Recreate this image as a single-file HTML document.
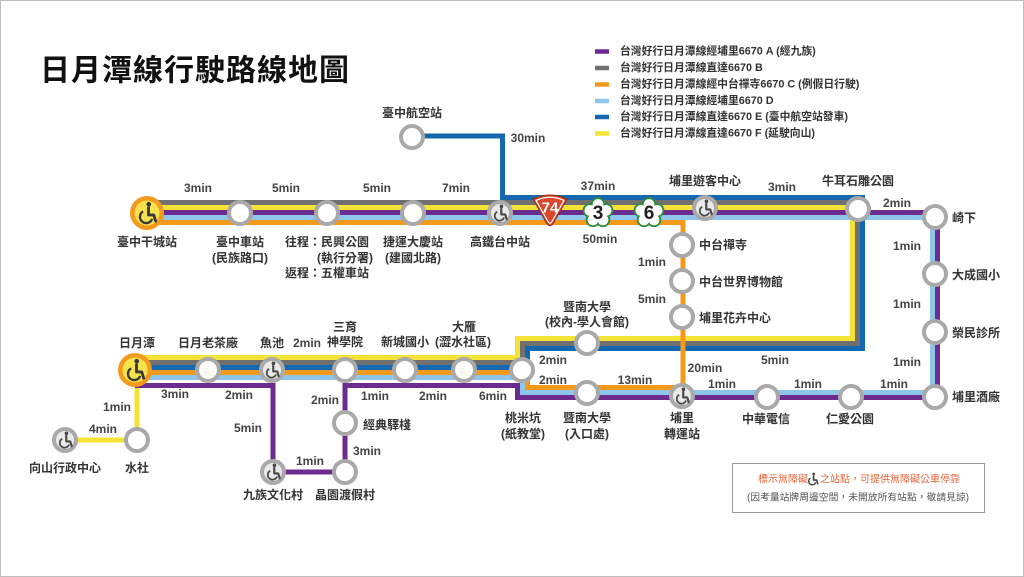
<!DOCTYPE html>
<html><head><meta charset="utf-8"><style>
html,body{margin:0;padding:0;background:#fff}
svg{display:block}
text{font-family:"Liberation Sans","Noto Sans CJK TC",sans-serif;fill:#333;dominant-baseline:central}
.st{font-size:12px;font-weight:bold;text-anchor:middle}
.sl{font-size:12px;font-weight:bold;text-anchor:start}
.mn{font-size:12px;font-weight:bold;text-anchor:middle;fill:#444}
.lg{font-size:10.8px;font-weight:bold;fill:#333}
</style></head><body>
<svg width="1024" height="577" viewBox="0 0 1024 577" xmlns="http://www.w3.org/2000/svg">
<rect x="0.5" y="0.5" width="1023" height="576" fill="#fff" stroke="#bdbdbd" stroke-width="1"/>

<!-- Title -->
<text x="40" y="71" style="font-size:30px;font-weight:bold;fill:#111;letter-spacing:1px">日月潭線行駛路線地圖</text>

<!-- Legend -->
<g stroke-width="4.5">
<line x1="595" y1="51.5" x2="609" y2="51.5" stroke="#6c2b8f"/>
<line x1="595" y1="68" x2="609" y2="68" stroke="#707070"/>
<line x1="595" y1="84.5" x2="609" y2="84.5" stroke="#f39a1d"/>
<line x1="595" y1="101" x2="609" y2="101" stroke="#8ec5ea"/>
<line x1="595" y1="117" x2="609" y2="117" stroke="#1368b0"/>
<line x1="595" y1="133.5" x2="609" y2="133.5" stroke="#f4e336"/>
</g>
<text class="lg" x="620" y="51.5">台灣好行日月潭線經埔里6670 A (經九族)</text>
<text class="lg" x="620" y="68">台灣好行日月潭線直達6670 B</text>
<text class="lg" x="620" y="84.5">台灣好行日月潭線經中台禪寺6670 C (例假日行駛)</text>
<text class="lg" x="620" y="101">台灣好行日月潭線經埔里6670 D</text>
<text class="lg" x="620" y="117">台灣好行日月潭線直達6670 E (臺中航空站發車)</text>
<text class="lg" x="620" y="133.5">台灣好行日月潭線直達6670 F (延駛向山)</text>

<!-- Route lines -->
<g fill="none" stroke-width="5" stroke-linejoin="miter" stroke-linecap="butt">
<path d="M147,207.5 H852.5 V338.5 H517.5 V357.5 H135" stroke="#f4e336"/>
<path d="M137,370 V440 H65" stroke="#f4e336"/>
<path d="M147,202.5 H857.5 V343.5 H522.5 V362.5 H135" stroke="#707070"/>
<path d="M412,136 H502.5 V197.5 H862.5 V348.5 H527.5 V367.5 H135" stroke="#1368b0"/>
<path d="M147,212.5 H937.5 V397.5 H517.5 V385.5 H345 V472 H273 V385.5 H135" stroke="#6c2b8f"/>
<path d="M147,217.5 H932.5 V392.5 H522.5 V377.5 H135" stroke="#8ec5ea"/>
<path d="M147,222.5 H683 V387.5 H527.5 V372.5 H135" stroke="#f39a1d"/>
</g>

<!-- Regular stations -->
<g fill="#fff" stroke="#a9a9a9" stroke-width="4">
<circle cx="240" cy="213" r="11"/>
<circle cx="327" cy="213" r="11"/>
<circle cx="413" cy="213" r="11"/>
<circle cx="412" cy="137" r="11"/>
<circle cx="858" cy="209" r="11"/>
<circle cx="935" cy="217" r="11"/>
<circle cx="935" cy="274" r="11"/>
<circle cx="935" cy="332" r="11"/>
<circle cx="935" cy="397" r="11"/>
<circle cx="682" cy="245" r="11"/>
<circle cx="682" cy="281" r="11"/>
<circle cx="682" cy="317" r="11"/>
<circle cx="851" cy="397" r="11"/>
<circle cx="767" cy="397" r="11"/>
<circle cx="587" cy="343" r="11"/>
<circle cx="587" cy="393" r="11"/>
<circle cx="522" cy="370" r="11"/>
<circle cx="464" cy="370" r="11"/>
<circle cx="405" cy="370" r="11"/>
<circle cx="345" cy="370" r="11"/>
<circle cx="208" cy="370" r="11"/>
<circle cx="137" cy="440" r="11"/>
<circle cx="345" cy="423" r="11"/>
<circle cx="345" cy="472" r="11"/>
</g>

<!-- Accessible grey stations -->
<g fill="#e9e9e9" stroke="#a9a9a9" stroke-width="4">
<circle cx="500" cy="213" r="11"/>
<circle cx="705" cy="208" r="11"/>
<circle cx="682" cy="396" r="11"/>
<circle cx="272" cy="370" r="11"/>
<circle cx="273" cy="472" r="11"/>
<circle cx="65" cy="440" r="11"/>
</g>
<!-- Big accessible stations -->
<g>
<circle cx="147" cy="213" r="17" fill="#f39a1d"/>
<circle cx="147" cy="213" r="12.5" fill="#f6e24e"/>
<circle cx="135" cy="370" r="17" fill="#f39a1d"/>
<circle cx="135" cy="370" r="12.5" fill="#f6e24e"/>
</g>

<!-- Wheelchair icons -->
<g fill="none" stroke="#4a4a4a">
<g transform="translate(147.5,213) scale(1.25)"><circle cx="1" cy="-7" r="1.9" fill="#3a3a3a" stroke="none"/><path d="M0.8,-4.2 V1.5 H5 L6.5,6.5" stroke="#3a3a3a" stroke-width="2.3" stroke-linejoin="round" stroke-linecap="round"/><path d="M-3.5,-1.3 A5,5 0 1 0 3.7,4.7" stroke="#3a3a3a" stroke-width="1.9"/></g>
<g transform="translate(135.5,370) scale(1.25)"><circle cx="1" cy="-7" r="1.9" fill="#3a3a3a" stroke="none"/><path d="M0.8,-4.2 V1.5 H5 L6.5,6.5" stroke="#3a3a3a" stroke-width="2.3" stroke-linejoin="round" stroke-linecap="round"/><path d="M-3.5,-1.3 A5,5 0 1 0 3.7,4.7" stroke="#3a3a3a" stroke-width="1.9"/></g>
<g transform="translate(500.5,213) scale(0.95)"><circle cx="1" cy="-7" r="1.9" fill="#4a4a4a" stroke="none"/><path d="M0.8,-4.2 V1.5 H5 L6.5,6.5" stroke-width="2.3" stroke-linejoin="round" stroke-linecap="round"/><path d="M-3.5,-1.3 A5,5 0 1 0 3.7,4.7" stroke-width="1.9"/></g>
<g transform="translate(705.5,208) scale(0.95)"><circle cx="1" cy="-7" r="1.9" fill="#4a4a4a" stroke="none"/><path d="M0.8,-4.2 V1.5 H5 L6.5,6.5" stroke-width="2.3" stroke-linejoin="round" stroke-linecap="round"/><path d="M-3.5,-1.3 A5,5 0 1 0 3.7,4.7" stroke-width="1.9"/></g>
<g transform="translate(682.5,396) scale(0.95)"><circle cx="1" cy="-7" r="1.9" fill="#4a4a4a" stroke="none"/><path d="M0.8,-4.2 V1.5 H5 L6.5,6.5" stroke-width="2.3" stroke-linejoin="round" stroke-linecap="round"/><path d="M-3.5,-1.3 A5,5 0 1 0 3.7,4.7" stroke-width="1.9"/></g>
<g transform="translate(272.5,370) scale(0.95)"><circle cx="1" cy="-7" r="1.9" fill="#4a4a4a" stroke="none"/><path d="M0.8,-4.2 V1.5 H5 L6.5,6.5" stroke-width="2.3" stroke-linejoin="round" stroke-linecap="round"/><path d="M-3.5,-1.3 A5,5 0 1 0 3.7,4.7" stroke-width="1.9"/></g>
<g transform="translate(273.5,472) scale(0.95)"><circle cx="1" cy="-7" r="1.9" fill="#4a4a4a" stroke="none"/><path d="M0.8,-4.2 V1.5 H5 L6.5,6.5" stroke-width="2.3" stroke-linejoin="round" stroke-linecap="round"/><path d="M-3.5,-1.3 A5,5 0 1 0 3.7,4.7" stroke-width="1.9"/></g>
<g transform="translate(65.5,440) scale(0.95)"><circle cx="1" cy="-7" r="1.9" fill="#4a4a4a" stroke="none"/><path d="M0.8,-4.2 V1.5 H5 L6.5,6.5" stroke-width="2.3" stroke-linejoin="round" stroke-linecap="round"/><path d="M-3.5,-1.3 A5,5 0 1 0 3.7,4.7" stroke-width="1.9"/></g>
</g>

<!-- Route 74 shield -->
<path d="M533,199 Q550,191 567,199 L553.5,223 Q550,228.5 546.5,223 Z" fill="#d9472d" stroke="#8a2e1c" stroke-width="1"/>
<path d="M536,200.5 Q550,194 564,200.5 L552,221.5 Q550,225 548,221.5 Z" fill="none" stroke="#fff" stroke-width="1.2"/>
<text x="550" y="208" style="font-size:15px;font-weight:bold;fill:#fff;text-anchor:middle">74</text>

<!-- Flower badges -->
<g transform="translate(598,213)">
<g fill="#2e8b3a"><circle cx="0" cy="-8.5" r="7.3"/><circle cx="8.08" cy="-2.63" r="7.3"/><circle cx="5" cy="6.88" r="7.3"/><circle cx="-5" cy="6.88" r="7.3"/><circle cx="-8.08" cy="-2.63" r="7.3"/></g>
<g fill="#fff"><circle cx="0" cy="-8.5" r="5.4"/><circle cx="8.08" cy="-2.63" r="5.4"/><circle cx="5" cy="6.88" r="5.4"/><circle cx="-5" cy="6.88" r="5.4"/><circle cx="-8.08" cy="-2.63" r="5.4"/><circle cx="0" cy="0" r="8.5"/></g>
<text x="0" y="0.5" style="font-size:19px;font-weight:bold;fill:#222;text-anchor:middle">3</text>
</g>
<g transform="translate(649,213)">
<g fill="#2e8b3a"><circle cx="0" cy="-8.5" r="7.3"/><circle cx="8.08" cy="-2.63" r="7.3"/><circle cx="5" cy="6.88" r="7.3"/><circle cx="-5" cy="6.88" r="7.3"/><circle cx="-8.08" cy="-2.63" r="7.3"/></g>
<g fill="#fff"><circle cx="0" cy="-8.5" r="5.4"/><circle cx="8.08" cy="-2.63" r="5.4"/><circle cx="5" cy="6.88" r="5.4"/><circle cx="-5" cy="6.88" r="5.4"/><circle cx="-8.08" cy="-2.63" r="5.4"/><circle cx="0" cy="0" r="8.5"/></g>
<text x="0" y="0.5" style="font-size:19px;font-weight:bold;fill:#222;text-anchor:middle">6</text>
</g>

<!-- Top labels -->
<text class="st" x="412" y="113">臺中航空站</text>
<text class="mn" x="528" y="138">30min</text>
<text class="mn" x="198" y="188">3min</text>
<text class="mn" x="286" y="188">5min</text>
<text class="mn" x="377" y="188">5min</text>
<text class="mn" x="456" y="188">7min</text>
<text class="mn" x="598" y="186">37min</text>
<text class="mn" x="600" y="239">50min</text>
<text class="st" x="705" y="181">埔里遊客中心</text>
<text class="mn" x="782" y="187">3min</text>
<text class="st" x="858" y="181">牛耳石雕公園</text>
<text class="mn" x="897" y="203">2min</text>

<text class="st" x="147" y="242">臺中干城站</text>
<text class="st" x="240" y="242">臺中車站</text>
<text class="st" x="240" y="258">(民族路口)</text>
<text class="st" x="327" y="242">往程：民興公園</text>
<text class="st" x="345" y="258">(執行分署)</text>
<text class="st" x="327" y="273">返程：五權車站</text>
<text class="st" x="413" y="242">捷運大慶站</text>
<text class="st" x="413" y="258">(建國北路)</text>
<text class="st" x="500" y="242">高鐵台中站</text>

<!-- Right side -->
<text class="sl" x="952" y="218">崎下</text>
<text class="sl" x="952" y="275">大成國小</text>
<text class="sl" x="952" y="333">榮民診所</text>
<text class="sl" x="952" y="397">埔里酒廠</text>
<text class="mn" x="907" y="246">1min</text>
<text class="mn" x="907" y="304">1min</text>
<text class="mn" x="907" y="362">1min</text>
<text class="mn" x="722" y="384">1min</text>
<text class="mn" x="808" y="384">1min</text>
<text class="mn" x="894" y="384">1min</text>
<text class="st" x="766" y="419">中華電信</text>
<text class="st" x="850" y="419">仁愛公園</text>
<text class="mn" x="705" y="368">20min</text>
<text class="mn" x="775" y="360">5min</text>
<text class="sl" x="699" y="245">中台禪寺</text>
<text class="sl" x="699" y="282">中台世界博物館</text>
<text class="sl" x="699" y="318">埔里花卉中心</text>
<text class="mn" x="652" y="262">1min</text>
<text class="mn" x="652" y="299">5min</text>

<!-- Bottom row -->
<text class="st" x="137" y="343">日月潭</text>
<text class="st" x="208" y="343">日月老茶廠</text>
<text class="st" x="272" y="343">魚池</text>
<text class="mn" x="307" y="343">2min</text>
<text class="st" x="345" y="327">三育</text>
<text class="st" x="345" y="342">神學院</text>
<text class="st" x="405" y="342">新城國小</text>
<text class="st" x="464" y="327">大雁</text>
<text class="st" x="463" y="342">(澀水社區)</text>
<text class="st" x="587" y="307">暨南大學</text>
<text class="st" x="587" y="322">(校內-學人會館)</text>
<text class="mn" x="553" y="360">2min</text>
<text class="mn" x="553" y="380">2min</text>
<text class="mn" x="635" y="380">13min</text>
<text class="mn" x="175" y="394">3min</text>
<text class="mn" x="239" y="395">2min</text>
<text class="mn" x="375" y="396">1min</text>
<text class="mn" x="433" y="396">2min</text>
<text class="mn" x="493" y="396">6min</text>
<text class="st" x="523" y="418">桃米坑</text>
<text class="st" x="523" y="434">(紙教堂)</text>
<text class="st" x="587" y="418">暨南大學</text>
<text class="st" x="587" y="434">(入口處)</text>
<text class="st" x="682" y="418">埔里</text>
<text class="st" x="682" y="434">轉運站</text>
<text class="mn" x="325" y="400">2min</text>
<text class="sl" x="363" y="425">經典驛棧</text>
<text class="mn" x="367" y="451">3min</text>
<text class="mn" x="310" y="461">1min</text>
<text class="mn" x="248" y="428">5min</text>
<text class="st" x="273" y="495">九族文化村</text>
<text class="st" x="345" y="495">晶園渡假村</text>
<text class="mn" x="117" y="407">1min</text>
<text class="mn" x="103" y="429">4min</text>
<text class="st" x="65" y="468">向山行政中心</text>
<text class="st" x="137" y="468">水社</text>

<!-- Note box -->
<rect x="732.5" y="463.5" width="252" height="49" fill="#fff" stroke="#9a9a9a" stroke-width="1"/>
<text x="758" y="480" style="font-size:10px;fill:#e4663a">標示無障礙</text>
<g transform="translate(813,479) scale(0.72)" fill="none" stroke="#444"><circle cx="1" cy="-7" r="1.9" fill="#444" stroke="none"/><path d="M0.8,-4.2 V1.5 H5 L6.5,6.5" stroke-width="2.3" stroke-linejoin="round" stroke-linecap="round"/><path d="M-3.5,-1.3 A5,5 0 1 0 3.7,4.7" stroke-width="1.9"/></g>
<text x="820" y="480" style="font-size:10px;fill:#e4663a">之站點，可提供無障礙公車停靠</text>
<text x="858" y="498" style="font-size:9.8px;fill:#555;text-anchor:middle">(因考量站牌周邊空間，未開放所有站點，敬請見諒)</text>
</svg>
</body></html>
